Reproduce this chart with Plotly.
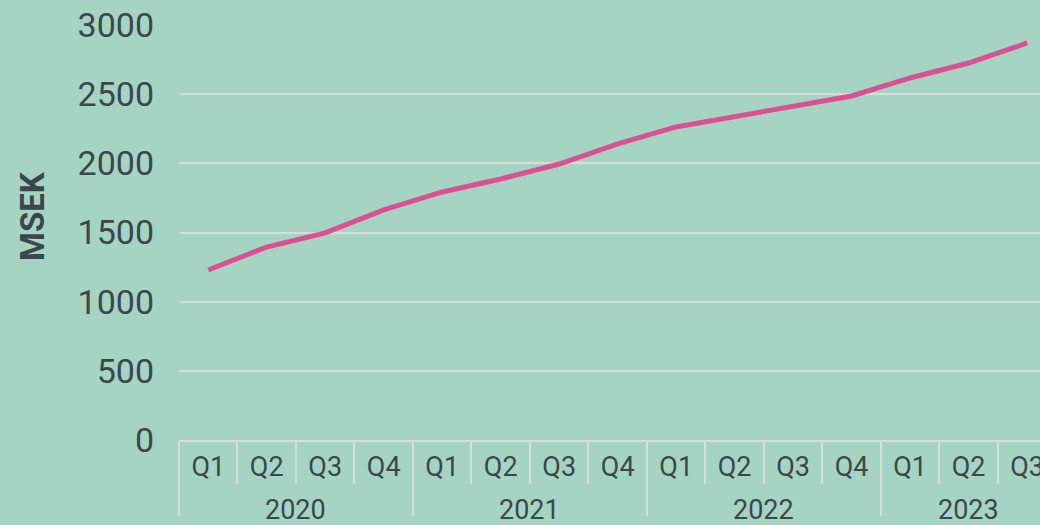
import plotly.graph_objects as go

years = ["2020"] * 4 + ["2021"] * 4 + ["2022"] * 4 + ["2023"] * 3
quarters = ["Q1", "Q2", "Q3", "Q4"] * 3 + ["Q1", "Q2", "Q3"]
values = [1229, 1395, 1497, 1663, 1793, 1887, 1995, 2140,
          2263, 2335, 2415, 2487, 2617, 2725, 2870]
y_ticks = [0, 500, 1000, 1500, 2000, 2500, 3000]

bg = "#a5d5c2"
grid = "#d9dcd9"
txt = "#3c474d"

# year groups: blank placeholders on the axis (for dividers), text drawn as annotations
unique_years = list(dict.fromkeys(years))
blank = {y: " " * (i + 1) for i, y in enumerate(unique_years)}
year_keys = [blank[y] for y in years]

fig = go.Figure()
fig.add_trace(go.Scatter(
    x=[year_keys, quarters], y=values, mode="lines",
    line=dict(color="#dc4f92", width=5),
    hoverinfo="skip",
))

fig.update_layout(
    width=1040, height=525,
    paper_bgcolor=bg, plot_bgcolor=bg,
    margin=dict(l=179, r=0, t=25, b=85),
    showlegend=False,
    font=dict(family="Roboto", color=txt, size=27),
)
fig.update_xaxes(
    type="multicategory",
    range=[-0.5, 14.22],
    showgrid=False,
    showline=True, linecolor=grid, linewidth=2,
    ticks="outside", tickson="boundaries", ticklen=42,
    tickcolor=grid, tickwidth=2,
    showdividers=True, dividercolor=grid, dividerwidth=2,
    tickfont=dict(size=27, color=txt),
    ticklabelstandoff=2,
)
fig.update_yaxes(
    range=[0, 3000], tickvals=y_ticks,
    showgrid=True, gridcolor=grid, gridwidth=2,
    zeroline=False, showline=False,
    tickfont=dict(size=34, color=txt),
    ticklabelstandoff=24,
)

for y in unique_years:
    idx = [i for i, v in enumerate(years) if v == y]
    fig.add_annotation(
        text=y, xref="x", yref="paper",
        x=(idx[0] + idx[-1]) / 2, y=(440 - 510) / 415,
        xanchor="center", yanchor="middle", showarrow=False,
        font=dict(size=27, color=txt, family="Roboto"),
    )

fig.add_annotation(
    text="<b>MSEK</b>", textangle=-90,
    xref="paper", yref="paper", x=(32 - 179) / 861, y=(440 - 216) / 415,
    xanchor="center", yanchor="middle", showarrow=False,
    font=dict(size=33, color=txt, family="Roboto"),
)

fig.write_html(
    "out.html",
    config={"displayModeBar": False},
    post_script="document.body.style.margin='0';document.body.style.padding='0';document.body.style.overflow='hidden';",
)
